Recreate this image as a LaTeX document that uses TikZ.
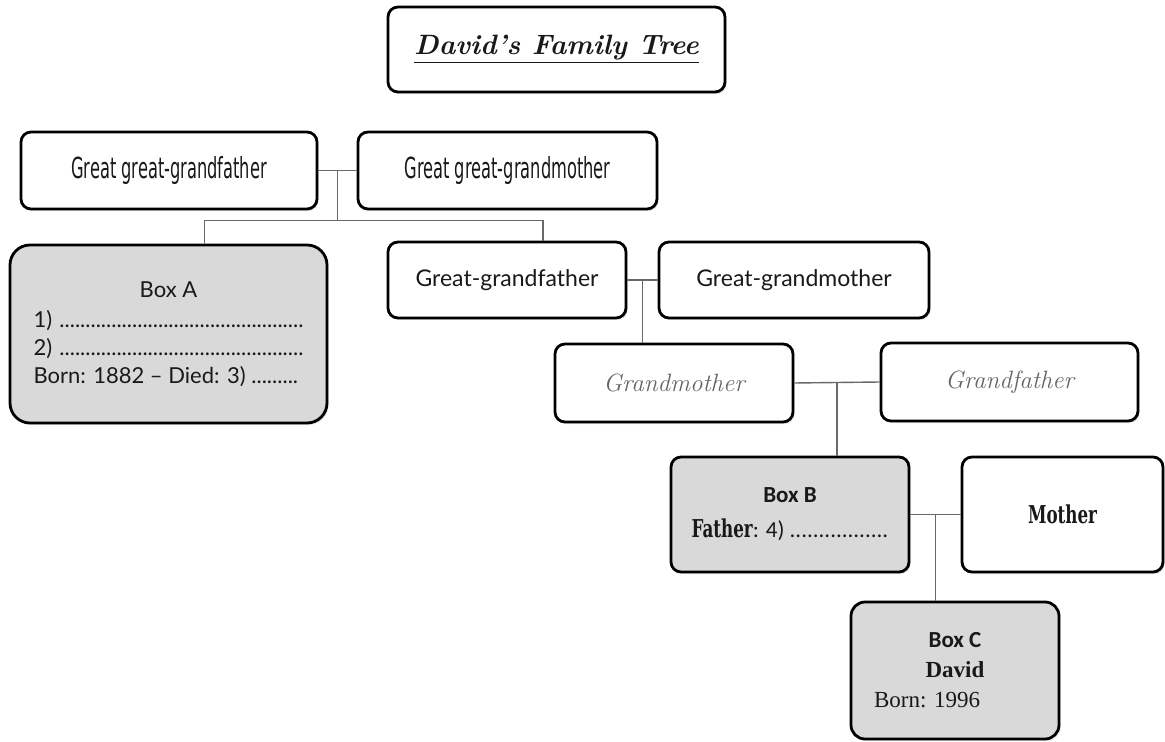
\documentclass[tikz,border=0pt]{standalone}
\usepackage{fontspec}
\usepackage{tikz}
\usetikzlibrary{positioning,calc,shadows}
\newfontfamily\agency[FakeStretch=0.56]{DejaVu Sans}
\newfontfamily\gill{Lato}
\newfontfamily\calib{Carlito}
\newfontfamily\camb{Liberation Serif}
\newfontfamily\slab[FakeStretch=0.68]{DejaVu Serif}
\definecolor{boxgray}{RGB}{217,217,217}
\definecolor{linkgray}{RGB}{105,105,105}
\newcommand{\dotline}{\leaders\hbox{.}\hfill}

\begin{document}
\begin{tikzpicture}[x=0.5pt,y=-0.5pt,
  person/.style={draw,line width=1.4pt,rounded corners=5pt,fill=white,inner sep=0pt,text=black!90,
    drop shadow={shadow xshift=0.8pt,shadow yshift=-1pt,opacity=0.2}},
  marked/.style={person,fill=boxgray},
  link/.style={draw=linkgray,line width=0.7pt}]
\useasboundingbox (0,0) rectangle (1165,742);
\node[person,minimum width=168.5pt,minimum height=42.5pt,font=\bfseries\itshape\fontsize{14}{18}\selectfont] (title) at (556.5,49.5) {\raisebox{-3pt}{\underline{David's Family Tree}}};
\node[person,minimum width=148pt,minimum height=38.5pt,font=\agency\fontsize{14.5}{16}\selectfont] (ggfather) at (169,170.5) {Great great-grandfather};
\node[person,minimum width=149.5pt,minimum height=38.5pt,font=\agency\fontsize{14.5}{16}\selectfont] (ggmother) at (507.5,170.5) {Great great-grandmother};
\node[marked,rounded corners=10pt,minimum width=158.5pt,minimum height=89pt,align=center,font=\gill\fontsize{11}{14}\selectfont] (boxa) at (168.5,334)
  {Box A\\[1pt]\makebox[135pt][l]{1)\,\dotline}\\\makebox[135pt][l]{2)\,\dotline}\\\makebox[135pt][l]{Born: 1882 – Died: 3) .........}};
\node[person,minimum width=119pt,minimum height=38pt,font=\gill\fontsize{11.5}{14}\selectfont] (gfather) at (507,280) {Great-grandfather};
\node[person,minimum width=135pt,minimum height=38pt,font=\gill\fontsize{11.5}{14}\selectfont] (gmother) at (794,280) {Great-grandmother};
\node[person,minimum width=119pt,minimum height=39pt,text=black!60,font=\itshape\fontsize{12.5}{15}\selectfont] (grandma) at (674,383) {Grandmother};
\node[person,minimum width=128.5pt,minimum height=39pt,text=black!60,font=\itshape\fontsize{12.5}{15}\selectfont] (grandpa) at (1009.5,382) {Grandfather};
\node[marked,minimum width=119pt,minimum height=57.5pt,align=center,font=\calib\fontsize{11.5}{17.5}\selectfont] (boxb) at (790,514.5)
  {\textbf{Box B}\\{\slab\bfseries\fontsize{12.3}{14}\selectfont Father}: 4) .................};
\node[person,minimum width=100.5pt,minimum height=57.5pt,font=\slab\bfseries\fontsize{12.3}{14}\selectfont] (mum) at (1062.5,514.5) {Mother};
\node[marked,rounded corners=7pt,minimum width=104pt,minimum height=68.5pt,align=center,font=\camb\fontsize{11.5}{15}\selectfont] (boxc) at (955,670.5)
  {{\calib\bfseries Box C}\\\textbf{David}\\\makebox[81pt][l]{Born: 1996}};
\coordinate (j1) at ($(ggfather.east)!.5!(ggmother.west)$);
\coordinate (j2) at ($(gfather.east)!.5!(gmother.west)$);
\coordinate (j3) at ($(grandma.east)!.5!(grandpa.west)$);
\coordinate (j4) at ($(boxb.east)!.5!(mum.west)$);
\draw[link] (ggfather.east) -- (ggmother.west);
\draw[link] ([xshift=18pt]boxa.north) -- ++(0,-23) coordinate (bar) -| ([xshift=18pt]gfather.north);
\draw[link] (j1) -- (j1 |- bar);
\draw[link] (gfather.east) -- (gmother.west);
\draw[link] (j2) -- (j2 |- grandma.north);
\draw[link] (grandma.east) -- (grandpa.west);
\draw[link] (j3) -- (j3 |- boxb.north);
\draw[link] (boxb.east) -- (mum.west);
\draw[link] (j4) -- (j4 |- boxc.north);
\end{tikzpicture}
\end{document}
